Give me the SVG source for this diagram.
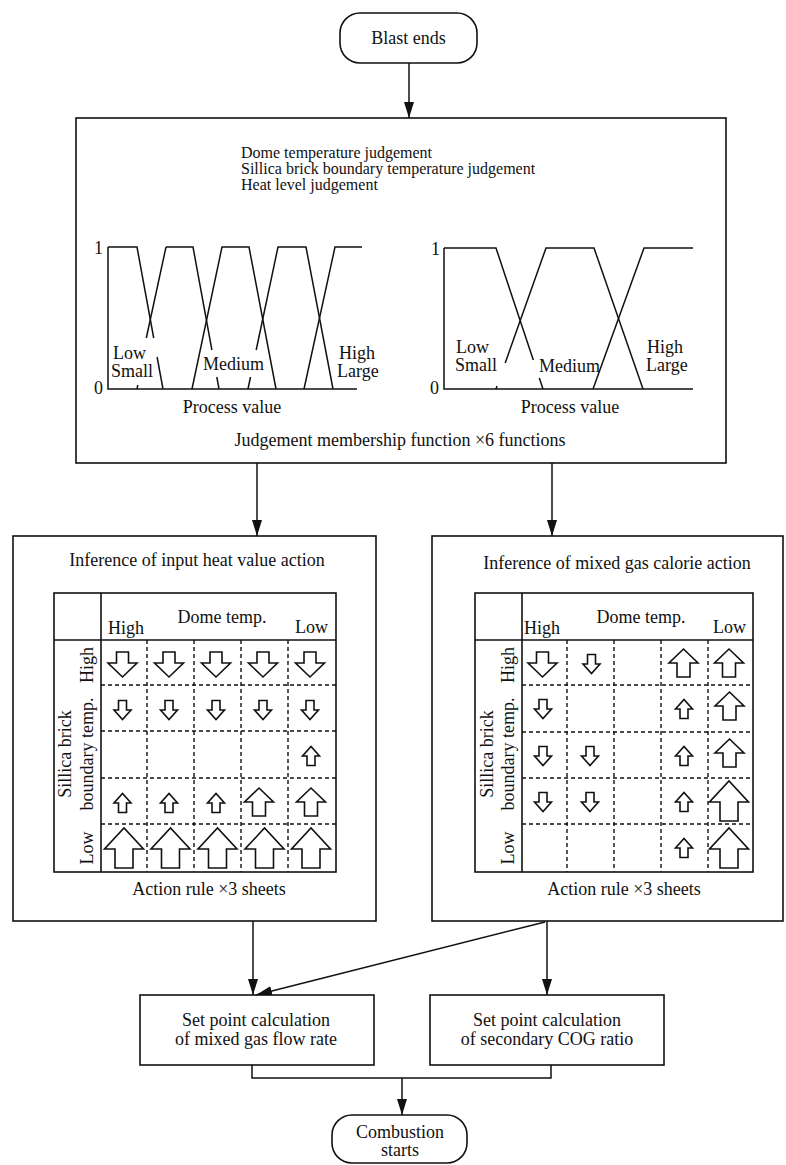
<svg xmlns="http://www.w3.org/2000/svg" width="786" height="1165" viewBox="0 0 786 1165">
<defs>
<style>
text{font-family:"Liberation Serif","Times New Roman",serif;font-size:18px;fill:#111}
.sm{font-size:16px}
.box{fill:#fff;stroke:#111;stroke-width:1.6}
.mf{fill:none;stroke:#111;stroke-width:1.5}
.tb{fill:none;stroke:#111;stroke-width:1.6}
.dash{fill:none;stroke:#111;stroke-width:1.4;stroke-dasharray:4 3}
.ar{fill:#fff;stroke:#111;stroke-width:1.6;stroke-linejoin:miter}
.c{text-anchor:middle}
.con{fill:none;stroke:#111;stroke-width:1.5}
</style>
<marker id="ah" viewBox="0 0 16 10" refX="16" refY="5" markerWidth="16" markerHeight="10" orient="auto" markerUnits="userSpaceOnUse"><path d="M0,0 L16,5 L0,10 z" fill="#111"/></marker>
<path id="dM" class="ar" d="M-6,-12.5 H6 V-1.5 H14.5 L0,12.5 L-14.5,-1.5 H-6 Z"/>
<path id="dS" class="ar" d="M-4,-9.5 H4 V0 H8.5 L0,9.5 L-8.5,0 H-4 Z"/>
<path id="uS" class="ar" d="M-4,9.5 V0 H-8.5 L0,-9.5 L8.5,0 H4 V9.5 Z"/>
<path id="uM" class="ar" d="M-6.5,14 V0 H-14.5 L0,-14 L14.5,0 H6.5 V14 Z"/>
<path id="uL" class="ar" d="M-9,20 V1 H-19.5 L0,-20 L19.5,1 H9 V20 Z"/>
</defs>
<rect width="786" height="1165" fill="#fff"/>

<g id="connectors">
<line class="con" x1="409" y1="63" x2="409" y2="118" marker-end="url(#ah)"/>
<line class="con" x1="257" y1="463" x2="257" y2="536" marker-end="url(#ah)"/>
<line class="con" x1="552" y1="463" x2="552" y2="536" marker-end="url(#ah)"/>
<line class="con" x1="253" y1="921" x2="253" y2="995" marker-end="url(#ah)"/>
<line class="con" x1="547" y1="921" x2="547" y2="995" marker-end="url(#ah)"/>
<line class="con" x1="545" y1="922" x2="256" y2="995" marker-end="url(#ah)"/>
<polyline class="con" points="252,1065 252,1078 551,1078 551,1065"/>
<line class="con" x1="402" y1="1078" x2="402" y2="1115" marker-end="url(#ah)"/>
</g>

<g id="blast-ends">
<rect class="box" x="340" y="13" width="137" height="50" rx="20"/>
<text class="c" x="408.5" y="44">Blast ends</text>
</g>

<g id="judgement">
<rect class="box" x="76" y="118" width="650" height="345"/>
<text class="sm" x="241" y="158">Dome temperature judgement</text>
<text class="sm" x="241" y="174">Sillica brick boundary temperature judgement</text>
<text class="sm" x="241" y="190">Heat level judgement</text>
<g id="mf-left">
<polyline class="mf" points="108,247 108,389 357,389"/>
<polyline class="mf" points="108,247 137,247 153.7,338"/>
<line class="mf" x1="157.1" y1="357" x2="163" y2="389"/>
<line class="mf" x1="137" y1="389" x2="137.8" y2="385"/>
<line class="mf" x1="146.3" y1="338" x2="166" y2="247"/>
<polyline class="mf" points="166,247 193,247 211.9,350"/>
<line class="mf" x1="216.8" y1="377" x2="219" y2="389"/>
<polyline class="mf" points="192,389 222,247 249,247 276,389"/>
<line class="mf" x1="248" y1="389" x2="250.5" y2="377"/>
<polyline class="mf" points="256.2,350 278,247 306,247 333,389"/>
<polyline class="mf" points="304,389 335,247 362,247"/>
<text x="94" y="254">1</text>
<text x="94" y="394">0</text>
<text x="113" y="359">Low</text>
<text x="111" y="377">Small</text>
<text x="203" y="370">Medium</text>
<text x="339" y="359">High</text>
<text x="337" y="377">Large</text>
<text class="c" x="232" y="413">Process value</text>
</g>
<g id="mf-right">
<polyline class="mf" points="444,248 444,389 693,389"/>
<polyline class="mf" points="444,248 496,248 533.3,360"/>
<line class="mf" x1="539.3" y1="378" x2="543" y2="389"/>
<line class="mf" x1="496" y1="389" x2="497" y2="386"/>
<polyline class="mf" points="505.2,363 546,248 594,248 643,389"/>
<polyline class="mf" points="593,389 644,248 693,248"/>
<text x="431" y="255">1</text>
<text x="430" y="394">0</text>
<text x="456" y="353">Low</text>
<text x="455" y="371">Small</text>
<text x="539" y="372">Medium</text>
<text x="647" y="353">High</text>
<text x="646" y="371">Large</text>
<text class="c" x="570" y="413">Process value</text>
</g>
<text class="c" x="400" y="446">Judgement membership function ×6 functions</text>
</g>

<g id="input-heat">
<rect class="box" x="13" y="536" width="363" height="385"/>
<text class="c" x="197" y="566">Inference of input heat value action</text>
<rect class="tb" x="54" y="593" width="282" height="279"/>
<line class="tb" x1="101" y1="593" x2="101" y2="872"/>
<line class="tb" x1="54" y1="640" x2="336" y2="640"/>
<path class="dash" d="M147,640 V872 M194,640 V872 M241,640 V872 M288,640 V872 M101,685 H336 M101,731 H336 M101,778 H336 M101,824 H336"/>
<text x="108" y="634">High</text>
<text class="c" x="222" y="623">Dome temp.</text>
<text x="295" y="633">Low</text>
<text class="c" transform="translate(93,665) rotate(-90)">High</text>
<text class="c" transform="translate(93,848) rotate(-90)">Low</text>
<text class="c" transform="translate(71,754) rotate(-90)">Sillica brick</text>
<text class="c" transform="translate(93,754) rotate(-90)">boundary temp.</text>
<use href="#dM" x="122.5" y="664.5"/><use href="#dM" x="169" y="664.5"/><use href="#dM" x="216" y="664.5"/><use href="#dM" x="263" y="664.5"/><use href="#dM" x="310" y="664.5"/>
<use href="#dS" x="122.5" y="710"/><use href="#dS" x="169" y="710"/><use href="#dS" x="216" y="710"/><use href="#dS" x="263" y="710"/><use href="#dS" x="310" y="710"/>
<use href="#uS" x="311" y="756"/>
<use href="#uS" x="122.5" y="803"/><use href="#uS" x="169" y="803"/><use href="#uS" x="216" y="803"/><use href="#uM" x="259" y="802"/><use href="#uM" x="311" y="802"/>
<use href="#uL" x="124" y="848"/><use href="#uL" x="170.5" y="848"/><use href="#uL" x="217.5" y="848"/><use href="#uL" x="264.5" y="848"/><use href="#uL" x="311" y="848"/>
<text class="c" x="209" y="895">Action rule ×3 sheets</text>
</g>

<g id="gas-calorie">
<rect class="box" x="432" y="536" width="351" height="385"/>
<text class="c" x="617" y="569">Inference of mixed gas calorie action</text>
<rect class="tb" x="475" y="593" width="278" height="279"/>
<line class="tb" x1="522" y1="593" x2="522" y2="872"/>
<line class="tb" x1="475" y1="640" x2="753" y2="640"/>
<path class="dash" d="M567,640 V872 M614,640 V872 M661,640 V872 M708,640 V872 M522,685 H753 M522,732 H753 M522,778 H753 M522,824 H753"/>
<text x="524" y="634">High</text>
<text class="c" x="641" y="623">Dome temp.</text>
<text x="713" y="633">Low</text>
<text class="c" transform="translate(514,665) rotate(-90)">High</text>
<text class="c" transform="translate(514,848) rotate(-90)">Low</text>
<text class="c" transform="translate(493,754) rotate(-90)">Sillica brick</text>
<text class="c" transform="translate(514,754) rotate(-90)">boundary temp.</text>
<use href="#dM" x="542.5" y="664.5"/><use href="#dS" x="591.5" y="664"/><use href="#uM" x="683.5" y="663"/><use href="#uM" x="729" y="663"/>
<use href="#dS" x="543" y="709"/><use href="#uS" x="684" y="709"/><use href="#uM" x="729.5" y="706"/>
<use href="#dS" x="543" y="756"/><use href="#dS" x="590" y="756"/><use href="#uS" x="684" y="756"/><use href="#uM" x="729.5" y="753"/>
<use href="#dS" x="543" y="802"/><use href="#dS" x="590" y="802"/><use href="#uS" x="684" y="802"/><use href="#uL" x="729" y="801"/>
<use href="#uS" x="684" y="848"/><use href="#uL" x="729" y="848"/>
<text class="c" x="624" y="895">Action rule ×3 sheets</text>
</g>

<g id="setpoint-flow">
<rect class="box" x="140" y="995" width="234" height="70"/>
<text class="c" x="256" y="1026">Set point calculation</text>
<text class="c" x="256" y="1045">of mixed gas flow rate</text>
</g>

<g id="setpoint-cog">
<rect class="box" x="430" y="995" width="234" height="70"/>
<text class="c" x="547" y="1026">Set point calculation</text>
<text class="c" x="547" y="1045">of secondary COG ratio</text>
</g>

<g id="combustion-starts">
<rect class="box" x="332" y="1115" width="135" height="48" rx="20"/>
<text class="c" x="400" y="1138">Combustion</text>
<text class="c" x="400" y="1156">starts</text>
</g>
</svg>
